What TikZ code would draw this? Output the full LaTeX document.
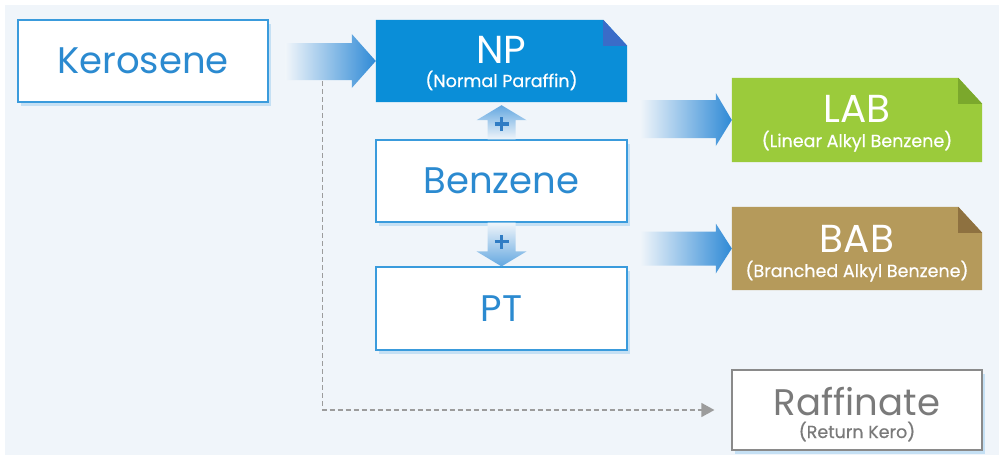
\documentclass[tikz,border=0pt]{standalone}
\usepackage{fontspec}
\setmainfont{Poppins}
\usetikzlibrary{shadows,backgrounds,arrows.meta,calc}
\definecolor{bgc}{HTML}{F0F5FA}
\definecolor{kblue}{HTML}{3A9BDC}
\definecolor{ktext}{HTML}{2B8AD0}
\definecolor{shadowblue}{HTML}{A9D2F0}
\definecolor{npblue}{HTML}{0A8ED8}
\definecolor{npfold}{HTML}{3A6CC8}
\definecolor{labgreen}{HTML}{9BCB3B}
\definecolor{labfold}{HTML}{7BA82C}
\definecolor{babtan}{HTML}{B59A5B}
\definecolor{babfold}{HTML}{8E7140}
\definecolor{rafgray}{HTML}{8A8A8A}
\definecolor{raftext}{HTML}{7A7A7A}
\definecolor{arrblue}{HTML}{2F8AD6}
\definecolor{plusblue}{HTML}{2F7CC4}
\newcommand\foldfill[3]{%
  \begin{scope}[on background layer]
    \fill[#2] (#1.north west) -- ([xshift=-24pt]#1.north east) -- ([yshift=-26pt]#1.north east) -- (#1.south east) -- (#1.south west) -- cycle;
    \fill[#3] ([xshift=-24pt]#1.north east) -- ([xshift=-24pt,yshift=-26pt]#1.north east) -- ([yshift=-26pt]#1.north east) -- cycle;
  \end{scope}}
\tikzset{
  bigfont/.style={font=\fontsize{37}{37}\selectfont},
  colfont/.style={font=\fontsize{39}{39}\selectfont},
  smallfont/.style={font=\fontsize{17.5}{19}\selectfont\addfontfeature{FakeBold=0.5}},
  plainbox/.style={draw=kblue, line width=1.2pt, fill=white, minimum width=250pt, minimum height=82pt,
    inner sep=0pt, text=ktext, bigfont, text depth=0pt,
    drop shadow={shadow xshift=3pt, shadow yshift=-4pt, fill=shadowblue, opacity=0.6}},
  rafbox/.style={draw=rafgray, line width=1.2pt, fill=white, minimum width=250pt, minimum height=80pt,
    inner sep=0pt, drop shadow={shadow xshift=3pt, shadow yshift=-4pt, fill=shadowblue, opacity=0.6}},
  foldbox/.style={minimum width=250pt, minimum height=83pt, inner sep=0pt},
  titletext/.style={anchor=base, colfont, inner sep=0pt},
  subtext/.style={anchor=base, smallfont, inner sep=0pt},
  plus/.style={draw=plusblue, line width=3.5pt},
  dashline/.style={draw=rafgray!85, line width=1.3pt, dash pattern=on 5pt off 3pt,
    -{Triangle[length=13pt,width=14pt]}},
}
\begin{document}
\begin{tikzpicture}[x=1pt,y=-1pt]
\useasboundingbox (0,0) rectangle (999,455);
\begin{scope}[on background layer]
  \fill[bgc] (5,5) rectangle (999,455);
\end{scope}

% boxes
\node[plainbox] (ker) at (143,61) {Kerosene};
\node[foldbox, minimum width=251pt, minimum height=82pt] (np) at (501.5,61) {};
\node[plainbox, minimum width=251pt] (benz) at (501.5,181) {Benzene};
\node[plainbox, minimum width=251pt, minimum height=83pt] (pt) at (501.5,308.5) {PT};
\node[foldbox, minimum height=84pt] (lab) at (857,120) {};
\node[foldbox] (bab) at (857,248.5) {};
\node[rafbox] (raf) at (857,410) {};

\foldfill{np}{npblue}{npfold}
\foldfill{lab}{labgreen}{labfold}
\foldfill{bab}{babtan}{babfold}

% texts
\node[titletext, text=white] (npt) at ([yshift=-2pt]np.center) {NP};
\node[subtext, text=white] (nps) at ([yshift=-26pt]np.center) {(Normal Paraffin)};
\node[titletext, text=white] (labt) at ([yshift=-2pt]lab.center) {LAB};
\node[subtext, text=white] (labs) at ([yshift=-27pt]lab.center) {(Linear Alkyl Benzene)};
\node[titletext, text=white] (babt) at ([yshift=-3.5pt]bab.center) {BAB};
\node[subtext, text=white] (babs) at ([yshift=-28.5pt]bab.center) {(Branched Alkyl Benzene)};
\node[titletext, bigfont, text=raftext] (raft) at ([yshift=-5pt]raf.center) {Raffinate};
\node[subtext, text=raftext] (rafs) at ([yshift=-28pt]raf.center) {(Return Kero)};

% horizontal gradient arrows
\shade[left color=bgc, right color=arrblue]
  ([shift={(17,-18)}]ker.east) -- ([shift={(-24,-18)}]np.west) -- ([shift={(-24,-27)}]np.west)
  -- (np.west) -- ([shift={(-24,27)}]np.west) -- ([shift={(-24,19)}]np.west)
  -- ([shift={(17,19)}]ker.east) -- cycle;
\shade[left color=bgc, right color=arrblue]
  ([shift={(13,-20)}]np.east|-lab.west) -- ([shift={(-16,-20)}]lab.west) -- ([shift={(-16,-27)}]lab.west)
  -- (lab.west) -- ([shift={(-16,26)}]lab.west) -- ([shift={(-16,18)}]lab.west)
  -- ([shift={(13,18)}]np.east|-lab.west) -- cycle;
\shade[left color=bgc, right color=arrblue]
  ([shift={(13,-17)}]np.east|-bab.west) -- ([shift={(-16,-17)}]bab.west) -- ([shift={(-16,-25)}]bab.west)
  -- (bab.west) -- ([shift={(-16,25)}]bab.west) -- ([shift={(-16,17)}]bab.west)
  -- ([shift={(13,17)}]np.east|-bab.west) -- cycle;

% vertical gradient arrows (y axis points down: positive shift = down)
\shade[top color=arrblue!75, bottom color=bgc]
  ([shift={(0,3)}]np.south) -- ([shift={(25,18)}]np.south) -- ([shift={(14,18)}]np.south)
  -- ([xshift=14pt]benz.north) -- ([xshift=-14pt]benz.north) -- ([shift={(-14,18)}]np.south)
  -- ([shift={(-25,18)}]np.south) -- cycle;
\shade[top color=bgc, bottom color=arrblue!75]
  ([xshift=-14pt]benz.south) -- ([xshift=14pt]benz.south) -- ([shift={(14,-15)}]pt.north)
  -- ([shift={(25,-15)}]pt.north) -- (pt.north) -- ([shift={(-25,-15)}]pt.north)
  -- ([shift={(-14,-15)}]pt.north) -- cycle;
\coordinate (p1) at ([yshift=-22pt]np.south);
\coordinate (p2) at ([yshift=-19pt]benz.south);
\draw[plus] ([xshift=-7pt]p1) -- ([xshift=7pt]p1) ([yshift=-7pt]p1) -- ([yshift=7pt]p1);
\draw[plus] ([xshift=-7pt]p2) -- ([xshift=7pt]p2) ([yshift=-7pt]p2) -- ([yshift=7pt]p2);

% dashed return line
\coordinate (dstart) at ([shift={(54,20)}]ker.east);
\draw[dashline, shorten >=17pt] (dstart) |- (raf.west);
\end{tikzpicture}
\end{document}
